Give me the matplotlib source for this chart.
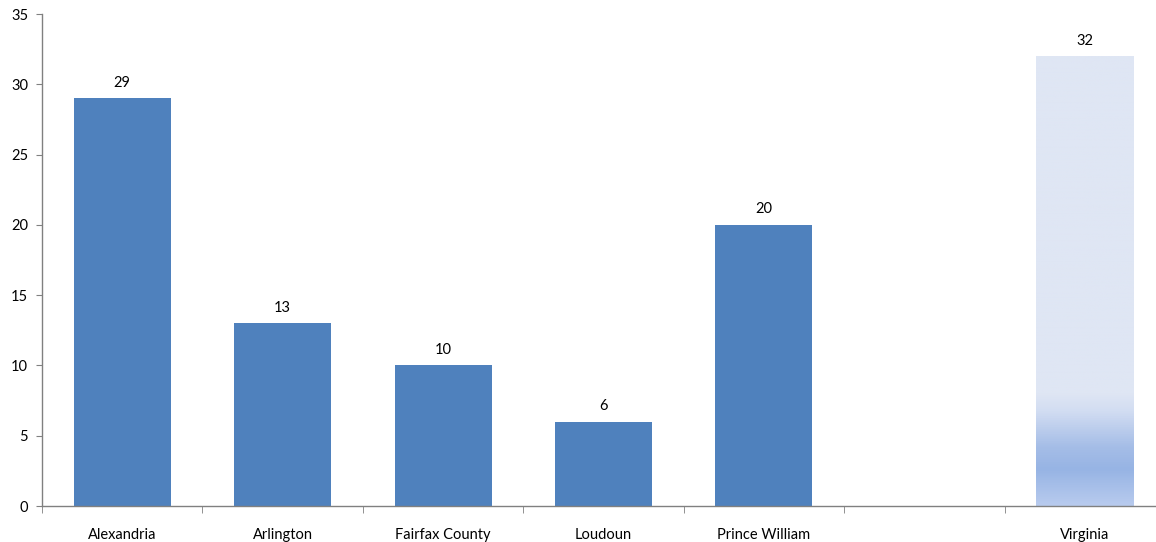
import matplotlib
matplotlib.use("Agg")
import matplotlib.pyplot as plt
import numpy as np
from matplotlib.colors import LinearSegmentedColormap

categories = ["Alexandria", "Arlington", "Fairfax County", "Loudoun", "Prince William", "", "Virginia"]
values = [29, 13, 10, 6, 20, None, 32]
labels = ["29", "13", "10", "6", "20", "", "32"]
yticks = [0, 5, 10, 15, 20, 25, 30, 35]

plt.rcParams['font.family'] = ['Lato', 'DejaVu Sans']

fig = plt.figure(figsize=(11.56, 5.42), dpi=100)
W, H = 1156, 542
left, right, top, bottom = 42, 1165, 14, 506
ax = fig.add_axes([left / W, 1 - bottom / H, (right - left) / W, (bottom - top) / H])

x = np.arange(len(categories))
bw = 0.605
bar_color = "#4f81bd"
for i, v in enumerate(values):
    if v is None:
        continue
    if categories[i] == "Virginia":
        cmap = LinearSegmentedColormap.from_list(
            "vg", [(0.0, "#b8cbee"), (0.08, "#97b4e4"), (0.13, "#a5bde7"),
                   (0.21, "#d2ddf2"), (0.25, "#dfe6f4"), (1.0, "#dfe6f4")])
        grad = np.linspace(0, 1, 512).reshape(-1, 1)
        ax.imshow(grad, cmap=cmap, origin="lower", aspect="auto",
                  extent=[x[i] - bw / 2, x[i] + bw / 2, 0, v], zorder=2)
    else:
        ax.bar(x[i], v, width=bw, color=bar_color, zorder=2)
    ax.text(x[i], v + 0.6, labels[i], ha="center", va="bottom", fontsize=10.5, color="black")

ax.set_xlim(-0.5, len(categories) - 0.5)
ax.set_ylim(0, 35)
ax.set_yticks(yticks)
ax.set_yticklabels([str(t) for t in yticks], fontsize=10.5)
ax.set_xticks(x)
ax.set_xticklabels(categories, fontsize=10.5)
ax.tick_params(axis="x", length=0, pad=16)
ax.set_xticks(np.arange(-0.5, len(categories), 1.0), minor=True)
ax.tick_params(axis="x", which="minor", length=5, color="#808080", direction="out")
ax.tick_params(axis="y", length=4, color="#808080", direction="out", pad=6)

for s in ["top", "right"]:
    ax.spines[s].set_visible(False)
for s in ["left", "bottom"]:
    ax.spines[s].set_color("#808080")
    ax.spines[s].set_linewidth(1)

fig.savefig("out.png", dpi=100)
